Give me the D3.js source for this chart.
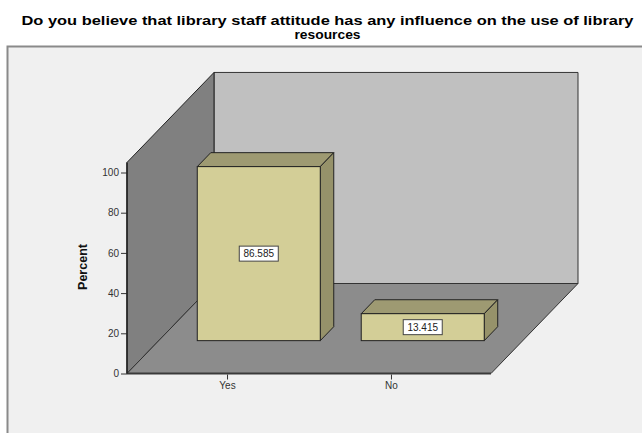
<!DOCTYPE html>
<html>
<head>
<meta charset="utf-8">
<script src="https://cdn.jsdelivr.net/npm/d3@7"></script>
<style>
  html, body { margin: 0; padding: 0; background: #fff; }
  svg { display: block; font-family: "Liberation Sans", Arial, sans-serif; }
</style>
</head>
<body>
<svg id="chart" width="642" height="433"></svg>
<script>
// ── Data ──────────────────────────────────────────────
const categories = ['Yes', 'No'];
const percents   = [86.585, 13.415];
const yTicks     = [0, 20, 40, 60, 80, 100];
const titleLines = ['Do you believe that library staff attitude has any influence on the use of library', 'resources'];

// ── Geometry (front plane + depth vector) ─────────────
const svg = d3.select('#chart');
const FX0 = 127, FX1 = 491;         // floor front edge
const DX = 87, DY = -90;            // full depth offset
const BAR_FRONT = 0.365, BAR_DEPTH = 0.155;
const BAR_W = 123;

const y = d3.scaleLinear().domain([0, 100]).range([373.5, 172.5]);
const x = d3.scalePoint().domain(categories).range([FX0, FX1]).padding(0.61);
const wallTop = y(105);

const pts = a => a.map(p => p.join(',')).join(' ');

// outer frame
svg.append('rect')
  .attr('x', 7.5).attr('y', 46.5).attr('width', 700).attr('height', 500)
  .attr('fill', '#f0f0f0').attr('stroke', '#8a8a8a').attr('stroke-width', 2);

// title (line 1 stretched to the reference width)
svg.append('g').selectAll('text').data(titleLines).join('text')
  .attr('x', 327.5).attr('y', (d, i) => 24.5 + i * 14)
  .attr('text-anchor', 'middle')
  .attr('font-size', 13).attr('font-weight', 'bold').attr('fill', '#000')
  .attr('textLength', (d, i) => i === 0 ? 612 : 66)
  .attr('lengthAdjust', 'spacingAndGlyphs')
  .text(d => d);

// back wall
svg.append('polygon')
  .attr('points', pts([[FX0 + DX, wallTop + DY], [FX1 + DX, wallTop + DY], [FX1 + DX, y(0) + DY], [FX0 + DX, y(0) + DY]]))
  .attr('fill', '#c0c0c0').attr('stroke', '#333').attr('stroke-width', 1);

// left wall
svg.append('polygon')
  .attr('points', pts([[FX0, y(0)], [FX0, wallTop], [FX0 + DX, wallTop + DY], [FX0 + DX, y(0) + DY]]))
  .attr('fill', '#808080').attr('stroke', '#222').attr('stroke-width', 1);

// floor
svg.append('polygon')
  .attr('points', pts([[FX0, y(0)], [FX1, y(0)], [FX1 + DX, y(0) + DY], [FX0 + DX, y(0) + DY]]))
  .attr('fill', '#8c8c8c').attr('stroke', '#333').attr('stroke-width', 1);
svg.append('line')
  .attr('x1', FX0).attr('x2', FX1).attr('y1', y(0)).attr('y2', y(0))
  .attr('stroke', '#3a3a3a').attr('stroke-width', 2);

// y axis
const yAxis = svg.append('g').attr('transform', `translate(${FX0},0)`)
  .call(d3.axisLeft(y).tickValues(yTicks).tickSize(6).tickPadding(2).tickFormat(d3.format('d')));
yAxis.select('.domain').remove();
yAxis.selectAll('line').attr('stroke', '#333');
yAxis.selectAll('text').attr('font-size', 10).attr('fill', '#333')
  .attr('font-family', '"Liberation Sans", Arial, sans-serif');

svg.append('line').attr('x1', FX0).attr('x2', FX0).attr('y1', wallTop).attr('y2', y(0))
  .attr('stroke', '#222').attr('stroke-width', 1.5);

svg.append('text')
  .attr('transform', 'translate(87,267) rotate(-90)')
  .attr('text-anchor', 'middle').attr('font-size', 12.5).attr('font-weight', 'bold').attr('fill', '#111')
  .text('Percent');

// x axis
const xAxis = svg.append('g').attr('transform', `translate(0,${y(0) + 1})`)
  .call(d3.axisBottom(x).tickSize(5).tickPadding(2));
xAxis.select('.domain').remove();
xAxis.selectAll('line').attr('stroke', '#333');
xAxis.selectAll('text').attr('font-size', 10).attr('fill', '#333')
  .attr('font-family', '"Liberation Sans", Arial, sans-serif');

// bars
const ox = BAR_FRONT * DX, oy = BAR_FRONT * DY;
const dx = BAR_DEPTH * DX, dy = BAR_DEPTH * DY;
const bars = svg.append('g').selectAll('g').data(categories.map((c, i) => ({ c, v: percents[i] }))).join('g');

bars.each(function (d) {
  const g = d3.select(this);
  const l = x(d.c) + ox - BAR_W / 2, r = l + BAR_W;
  const t = y(d.v) + oy, b = y(0) + oy;
  g.append('polygon')   // top
    .attr('points', pts([[l, t], [r, t], [r + dx, t + dy], [l + dx, t + dy]]))
    .attr('fill', '#9e9a72').attr('stroke', '#222').attr('stroke-width', 1);
  g.append('polygon')   // side
    .attr('points', pts([[r, t], [r + dx, t + dy], [r + dx, b + dy], [r, b]]))
    .attr('fill', '#96926a').attr('stroke', '#222').attr('stroke-width', 1);
  g.append('rect')      // front
    .attr('x', l).attr('y', t).attr('width', BAR_W).attr('height', b - t)
    .attr('fill', '#d3ce97').attr('stroke', '#222').attr('stroke-width', 1);

  const cx = (l + r) / 2, cy = (t + b) / 2;
  g.append('rect')
    .attr('x', cx - 19.5).attr('y', cy - 7.5).attr('width', 39).attr('height', 15)
    .attr('fill', '#fff').attr('stroke', '#444').attr('stroke-width', 1);
  g.append('text')
    .attr('x', cx).attr('y', cy + 3.6).attr('text-anchor', 'middle')
    .attr('font-size', 10).attr('fill', '#222')
    .text(d3.format('.3f')(d.v));
});
</script>
</body>
</html>
